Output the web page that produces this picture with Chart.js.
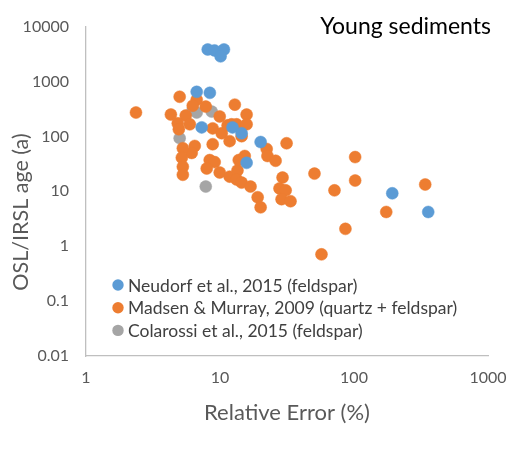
<!DOCTYPE html>
<html>
<head>
<meta charset="utf-8">
<script src="https://cdn.jsdelivr.net/npm/chart.js@4.4.1/dist/chart.umd.min.js"></script>
<style>
  html, body { margin: 0; padding: 0; background: #fff; }
  #wrap { width: 524px; height: 451px; }
</style>
</head>
<body>
<div id="wrap"><canvas id="young"></canvas></div>
<script>
// relative error (%) and OSL/IRSL age (a)
var neudorfErr = [8.1, 9.1, 10.7, 10.1, 6.7, 8.4, 7.3, 12.4, 14.5, 20.1, 15.8, 193, 358];
var neudorfAge = [3830, 3680, 3830, 2870, 648, 622, 146, 146, 114, 79, 33, 9.2, 4.2];

var madsenErr = [2.36, 5.0, 4.3, 6.7, 6.26, 7.83, 5.55, 9.95, 12.9, 15.8, 4.84, 4.93, 5.95,
  8.82, 10.3, 11.4, 12.2, 13.3, 15.8, 14.5, 8.82, 6.48, 6.15, 5.28, 5.19, 5.28, 5.28,
  8.38, 9.13, 7.96, 9.95, 11.8, 11.8, 13.5, 13.3, 14.5, 16.9, 15.3, 13.8, 22.3, 22.6,
  26, 31.4, 29.3, 27.8, 30.9, 28.8, 33.6, 19.1, 20.1, 50.7, 102, 102, 71.5, 174, 340,
  86.3, 57.2];
var madsenAge = [272, 527, 250, 465, 363, 349, 240, 231, 379, 250, 173, 135, 166,
  140, 114, 159, 166, 166, 166, 101, 72, 67, 50, 61, 41, 28, 20,
  37, 34, 26, 22, 82, 18.5, 24, 16.4, 14.4, 12.2, 44, 37, 59, 44,
  36, 75, 17.8, 11.3, 10.4, 7.2, 6.6, 7.8, 5.1, 21, 42, 15.7, 10.4, 4.2, 13.3,
  2.07, 0.71];

var colarossiErr = [6.26, 6.7, 8.67, 5.0, 7.83];
var colarossiAge = [308, 272, 283, 93, 12.2];

var seriesNames = ['Neudorf et al., 2015 (feldspar)',
  'Madsen & Murray, 2009 (quartz + feldspar)',
  'Colarossi et al., 2015 (feldspar)'];
var seriesColors = ['#5B9BD5', '#ED7D31', '#A5A5A5'];

var xTicks = [1, 10, 100, 1000];
var yTicks = [0.01, 0.1, 1, 10, 100, 1000, 10000];
var panelTitle = 'Young sediments';
var yTitle = 'OSL/IRSL age (a)';

function toPoints(xs, ys) {
  return xs.map(function (x, i) { return { x: x, y: ys[i] }; });
}

var allData = [
  toPoints(neudorfErr, neudorfAge),
  toPoints(madsenErr, madsenAge),
  toPoints(colarossiErr, colarossiAge)
];

var datasets = allData.map(function (pts, i) {
  return {
    label: seriesNames[i],
    data: pts,
    backgroundColor: seriesColors[i],
    borderColor: seriesColors[i],
    borderWidth: 0.5,
    pointRadius: 6,
    pointHoverRadius: 6
  };
});

// panel title, legend and the y title are placed like the Excel original
var insideText = {
  id: 'insideText',
  afterDatasetsDraw: function (chart) {
    var c = chart.ctx;
    var area = chart.chartArea;
    c.save();
    c.fillStyle = '#000';
    c.font = '23px Lato';
    c.textAlign = 'right';
    c.textBaseline = 'alphabetic';
    c.fillText(panelTitle, area.right + 3, 34);

    c.font = '17.5px Lato';
    c.textAlign = 'left';
    c.textBaseline = 'middle';
    for (var i = 0; i < seriesNames.length; i++) {
      var y = 285 + i * 22.7;
      c.fillStyle = seriesColors[i];
      c.beginPath();
      c.arc(area.left + 32, y, 5.7, 0, Math.PI * 2);
      c.fill();
      c.fillStyle = '#404040';
      c.fillText(seriesNames[i], area.left + 42, y + 1);
    }

    c.translate(21, 212);
    c.rotate(-Math.PI / 2);
    c.font = '21.5px Lato';
    c.fillStyle = '#595959';
    c.textAlign = 'center';
    c.fillText(yTitle, 0, 0);
    c.restore();
  }
};

var ctx = document.getElementById('young').getContext('2d');
var myChart = new Chart(ctx, {
  type: 'scatter',
  data: { datasets: datasets },
  plugins: [insideText],
  options: {
    responsive: true,
    maintainAspectRatio: false,
    animation: false,
    layout: {
      padding: { left: 0, right: 36, top: 20, bottom: 0 }
    },
    plugins: {
      legend: { display: false },
      tooltip: { enabled: false }
    },
    scales: {
      x: {
        type: 'logarithmic',
        min: 1,
        max: 1000,
        afterBuildTicks: function (scale) {
          scale.ticks = xTicks.map(function (v) { return { value: v }; });
        },
        afterFit: function (scale) { scale.height = 95; },
        ticks: {
          color: '#595959',
          font: { family: 'Lato', size: 16 },
          padding: 12,
          maxRotation: 0,
          autoSkip: false,
          callback: function (v) { return String(v); }
        },
        grid: { display: true, drawOnChartArea: false, drawTicks: false },
        border: { display: true, color: '#BFBFBF', width: 1.3 },
        title: {
          display: true,
          text: 'Relative Error (%)',
          color: '#595959',
          font: { family: 'Lato', size: 22 },
          padding: { top: 0, bottom: 25 }
        }
      },
      y: {
        type: 'logarithmic',
        min: 0.01,
        max: 10000,
        afterBuildTicks: function (scale) {
          scale.ticks = yTicks.map(function (v) { return { value: v }; });
        },
        afterFit: function (scale) { scale.width = 86; },
        ticks: {
          color: '#595959',
          font: { family: 'Lato', size: 16 },
          padding: 17,
          autoSkip: false,
          callback: function (v) { return String(v); }
        },
        grid: { display: true, drawOnChartArea: false, drawTicks: false },
        border: { display: true, color: '#BFBFBF', width: 1.3 },
        title: { display: false }
      }
    }
  }
});
</script>
</body>
</html>
